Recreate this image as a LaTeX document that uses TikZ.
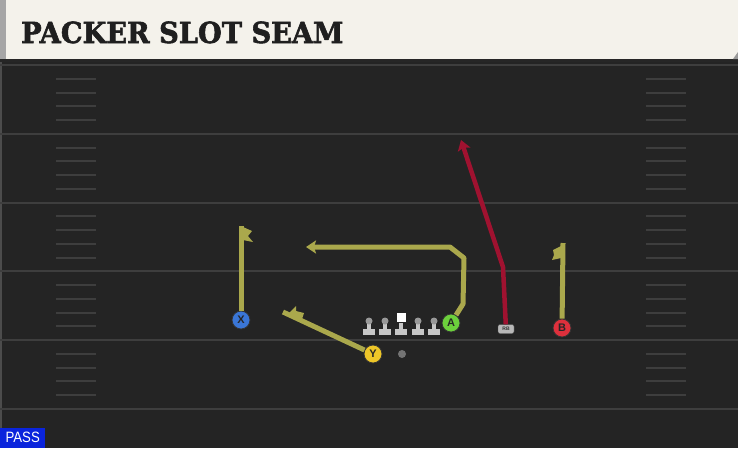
\documentclass[tikz,border=0pt]{standalone}
\usepackage{fontspec}
\setmainfont{Liberation Sans}
\newfontfamily\titlefont{DejaVu Serif}[BoldFeatures={FakeBold=2,FakeStretch=0.94}]
\usetikzlibrary{arrows.meta}
\definecolor{turf}{RGB}{36,36,36}
\definecolor{chalk}{RGB}{62,62,62}
\definecolor{paper}{RGB}{244,242,235}
\definecolor{routeol}{RGB}{170,168,76}
\definecolor{routerb}{RGB}{160,18,48}
\definecolor{xblue}{RGB}{58,118,214}
\definecolor{yyellow}{RGB}{238,198,40}
\definecolor{agreen}{RGB}{108,208,60}
\definecolor{bred}{RGB}{222,48,60}
\definecolor{passblue}{RGB}{10,36,220}
\begin{document}
\begin{tikzpicture}[x=1pt,y=-1pt,
  player/.style={circle,fill=#1,draw=black!80,line width=0.8pt,minimum size=18pt,inner sep=0pt,font=\fontsize{11}{11}\selectfont\bfseries,text=black!85},
  route/.style={draw=routeol,line width=5pt,line join=round},
  rbroute/.style={draw=routerb,line width=4.5pt,line join=round},
  tip/.style={-{Stealth[length=10pt,width=13pt,inset=2pt]}}]
\useasboundingbox (0,0) rectangle (738,448);
\fill[turf] (0,0) rectangle (738,448);
\fill[black!70] (0,60) rectangle (2,448);
\foreach \i in {0,...,5}\draw[chalk,line width=2pt] (0,{65+68.8*\i}) -- (738,{65+68.8*\i});
\foreach \i in {0,...,4}\foreach \k in {1,...,4}{
  \draw[chalk,line width=2pt] (56,{65+68.8*\i+13.76*\k}) -- (96,{65+68.8*\i+13.76*\k});
  \draw[chalk,line width=2pt] (646,{65+68.8*\i+13.76*\k}) -- (686,{65+68.8*\i+13.76*\k});
}
\fill[paper] (0,0) rectangle (738,59);
\fill[gray!70] (0,0) rectangle (6,59);
\fill[black!85] (0,59) rectangle (738,62);
\fill[gray!80] (733,59) -- (738,52) -- (738,59) -- cycle;
\node[anchor=base west,inner sep=0pt,font=\titlefont\bfseries\fontsize{29}{29}\selectfont,text=black!88] (title) at (21,43) {PACKER SLOT SEAM};
\node[fill=passblue,text=white,anchor=south west,minimum width=45pt,minimum height=20pt,inner sep=0pt,font=\fontsize{15}{15}\selectfont] (pass) at (0,448) {\scalebox{0.88}[1]{PASS}};
\foreach \x in {369,385,401,418,434}{
  \fill[black!22] (\x-6,329) rectangle (\x+6,335);
  \fill[black!22] (\x-2,323) rectangle (\x+2,329);
}
\foreach \x in {369,385,418,434}\fill[black!40] (\x,321) circle (3.5);
\fill[white] (397,313) rectangle (406,322);
\node[player=xblue] (X) at (241,320) {X};
\node[player=yyellow] (Y) at (373,354) {Y};
\node[player=agreen] (A) at (451,323) {A};
\node[player=bred] (B) at (562,328) {B};
\node[fill=black!28,draw=black!70,rounded corners=2pt,minimum width=16pt,minimum height=9pt,inner sep=0pt,font=\fontsize{5}{5}\selectfont\bfseries,text=black!80] (RB) at (506,329) {RB};
\node[circle,fill=black!55,minimum size=8pt,inner sep=0pt] (ball) at (402,354) {};
\coordinate (x1) at (241,226);
\coordinate (y1) at (283,312);
\coordinate (a1) at (463,304);
\coordinate (a2) at (464,258);
\coordinate (a3) at (450,247);
\coordinate (a4) at (306,247);
\coordinate (r1) at (503,267);
\coordinate (r2) at (461,140);
\coordinate (b1) at (563,243);
\draw[route] (X) -- (x1);
\fill[routeol] (243,227) -- (252,231) -- (248,236) -- (253,242) -- (243,240) -- cycle;
\draw[route] (Y) -- (y1);
\fill[routeol] (289,313) -- (296,306) -- (296,311) -- (304,313) -- (302,319) -- cycle;
\draw[route,tip] (A) -- (a1) -- (a2) -- (a3) -- (a4);
\draw[rbroute,tip] (RB) -- (r1) -- (r2);
\draw[route] (B) -- (b1);
\fill[routeol] (561,246) -- (553,250) -- (554,255) -- (552,260) -- (561,258) -- cycle;
\end{tikzpicture}
\end{document}
